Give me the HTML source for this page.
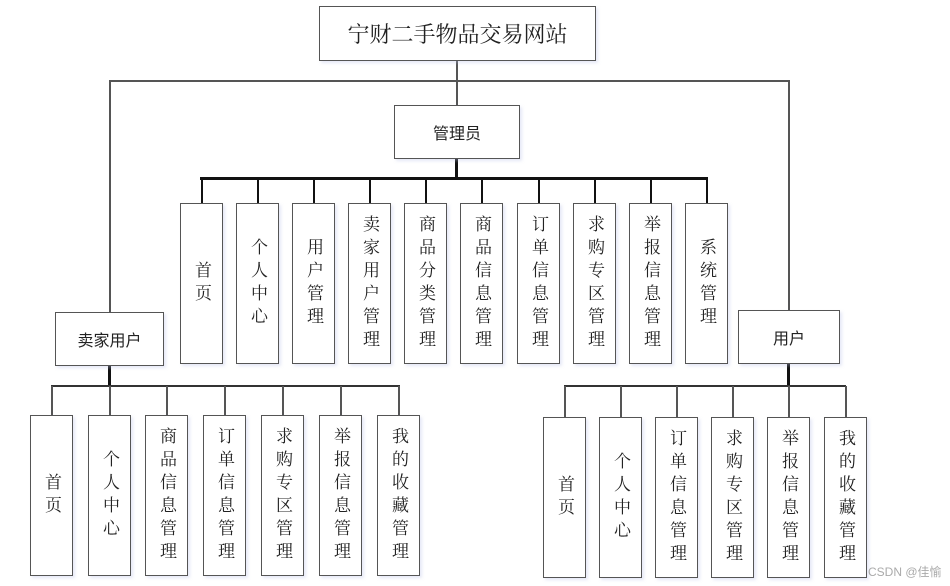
<!DOCTYPE html>
<html><head><meta charset="utf-8"><style>
body{margin:0;background:#fff;width:950px;height:586px;position:relative;overflow:hidden;font-family:"Liberation Sans","Noto Sans CJK SC",sans-serif;color:#222}
.b{position:absolute;border:1.5px solid #555;box-sizing:border-box;background:#fff;display:flex;align-items:center;justify-content:center;box-shadow:2px 2px 3px rgba(180,190,230,.35)}
.v{writing-mode:vertical-rl;text-orientation:upright;font-size:17px;letter-spacing:6px;line-height:17px;font-family:"Liberation Serif","Noto Serif CJK SC",serif}
.l{position:absolute;background:#555}
</style></head><body>
<div class="l" style="left:456px;top:60px;width:1.5px;height:45px"></div>
<div class="l" style="left:109px;top:80px;width:680px;height:1.5px"></div>
<div class="l" style="left:109px;top:80px;width:1.5px;height:232px"></div>
<div class="l" style="left:788px;top:80px;width:1.5px;height:230px"></div>
<div class="l" style="left:455px;top:158px;width:3px;height:21px;background:#111"></div>
<div class="l" style="left:200px;top:177px;width:508px;height:2.5px;background:#111"></div>
<div class="l" style="left:108px;top:365px;width:2.5px;height:22px;background:#111"></div>
<div class="l" style="left:51px;top:385px;width:349px;height:2px;background:#333"></div>
<div class="l" style="left:787px;top:363px;width:2.5px;height:24px;background:#111"></div>
<div class="l" style="left:564px;top:385px;width:282px;height:2px;background:#333"></div>
<div id="c"></div>
<div class="b" style="left:319px;top:6px;width:277px;height:55px;font-size:22px;font-family:'Liberation Serif','Noto Serif CJK SC',serif">宁财二手物品交易网站</div>
<div class="b" style="left:394px;top:105px;width:126px;height:54px;font-size:16px">管理员</div>
<div class="b" style="left:55px;top:312px;width:109px;height:54px;font-size:16px">卖家用户</div>
<div class="b" style="left:738px;top:310px;width:102px;height:54px;font-size:16px">用户</div>
<script>
var c=document.getElementById('c'),h='';
function row(xs,top,h2,labels,lt,lc){xs.forEach(function(x,i){
h+='<div class="l" style="left:'+(x+21)+'px;top:'+lt+'px;width:1.5px;height:'+(top-lt)+'px;background:'+lc+'"></div>';
h+='<div class="b" style="left:'+x+'px;top:'+top+'px;width:43px;height:'+h2+'px"><span class="v">'+labels[i]+'</span></div>';});}
row([180,236,292,348,404,460,517,573,629,685],203,161,['首页','个人中心','用户管理','卖家用户管理','商品分类管理','商品信息管理','订单信息管理','求购专区管理','举报信息管理','系统管理'],178,'#111');
row([30,88,145,203,261,319,377],415,161,['首页','个人中心','商品信息管理','订单信息管理','求购专区管理','举报信息管理','我的收藏管理'],386,'#555');
row([543,599,655,711,767,824],417,161,['首页','个人中心','订单信息管理','求购专区管理','举报信息管理','我的收藏管理'],386,'#555');
c.innerHTML=h;
</script>
<div style="position:absolute;left:868px;top:563px;font-size:12px;color:#aaa">CSDN @佳愉</div>
</body></html>
